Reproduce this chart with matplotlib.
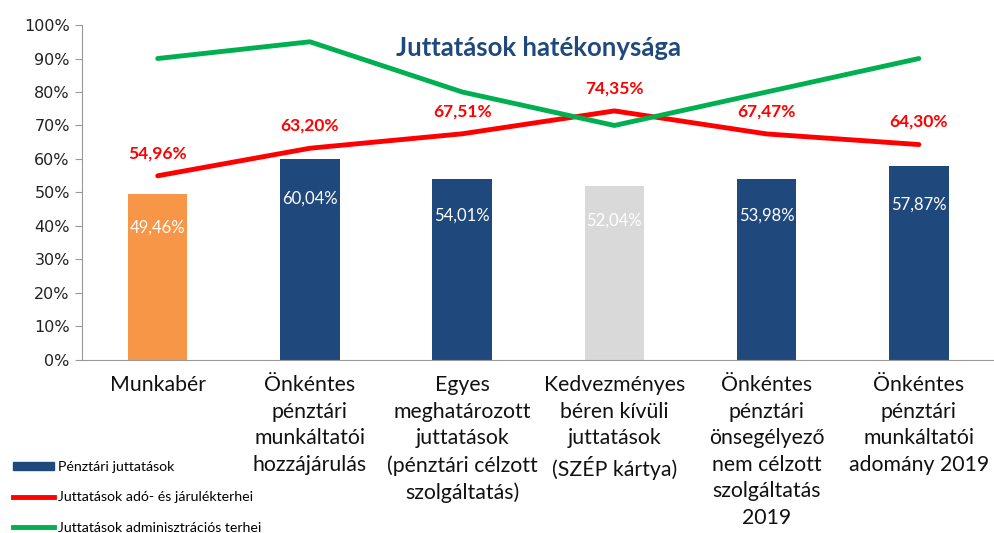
import numpy as np
import matplotlib.pyplot as plt
from matplotlib.patches import Patch
from matplotlib.lines import Line2D

# data
categories = ['Munkabér',
              'Önkéntes\npénztári\nmunkáltatói\nhozzájárulás',
              'Egyes\nmeghatározott\njuttatások\n(pénztári célzott\nszolgáltatás)',
              'Kedvezményes\nbéren kívüli\njuttatások\n(SZÉP kártya)',
              'Önkéntes\npénztári\nönsegélyező\nnem célzott\nszolgáltatás\n2019',
              'Önkéntes\npénztári\nmunkáltatói\nadomány 2019']
bar_values = [49.46, 60.04, 54.01, 52.04, 53.98, 57.87]
tax_values = [54.96, 63.20, 67.51, 74.35, 67.47, 64.30]
admin_values = [90, 95, 80, 70, 80, 90]
bar_colors = ['#F79646', '#1F497D', '#1F497D', '#D9D9D9', '#1F497D', '#1F497D']

plt.rcParams['font.family'] = ['Lato', 'DejaVu Sans']

fig = plt.figure(figsize=(9.95, 5.33), dpi=100)
ax = fig.add_axes([0.082, 0.325, 0.918, 0.628])

x = np.arange(len(categories))
ax.bar(x, bar_values, width=0.39, color=bar_colors, zorder=2)
ax.plot(x, tax_values, color='#FF0000', lw=3.5, zorder=3, solid_capstyle='round')
ax.plot(x, admin_values, color='#00B050', lw=3.5, zorder=3, solid_capstyle='round')

for xi, v in zip(x, bar_values):
    ax.text(xi, v * 0.8, f'{v:.2f}%'.replace('.', ','), color='white',
            ha='center', va='center', fontsize=12, zorder=4)
for xi, v in zip(x, tax_values):
    ax.text(xi, v + 6.8, f'{v:.2f}%'.replace('.', ','), color='#FF0000',
            ha='center', va='center', fontsize=12.5, fontweight='bold', zorder=4)

ax.text(2.5, 93, 'Juttatások hatékonysága', color='#1F497D', fontsize=18.5,
        fontweight='bold', ha='center', va='center')

ax.set_xlim(-0.5, len(categories) - 0.5)
ax.set_ylim(0, 100)
ax.set_yticks(np.arange(0, 101, 10))
ax.set_yticklabels([f'{t}%' for t in range(0, 101, 10)], fontsize=11.5,
                   family='DejaVu Sans', color='#222222')
ax.set_xticks(x)
ax.set_xticklabels(categories, fontsize=15.3, linespacing=1.41, color='#111111')
ax.tick_params(axis='x', length=0, pad=11)
ax.tick_params(axis='y', length=5, color='#999999', direction='out')
for s in ['top', 'right']:
    ax.spines[s].set_visible(False)
for s in ['left', 'bottom']:
    ax.spines[s].set_color('#999999')

handles = [Patch(color='#1F497D'),
           Line2D([], [], color='#FF0000', lw=3.5),
           Line2D([], [], color='#00B050', lw=3.5)]
labels = ['Pénztári juttatások', 'Juttatások adó- és járulékterhei',
          'Juttatások adminisztrációs terhei']
fig.legend(handles, labels, loc='lower left', bbox_to_anchor=(0.0, -0.025),
           frameon=False, fontsize=10.2, labelspacing=1.3, handlelength=2.9,
           handletextpad=0.3, handleheight=0.5)

fig.savefig('out.png', dpi=100)
